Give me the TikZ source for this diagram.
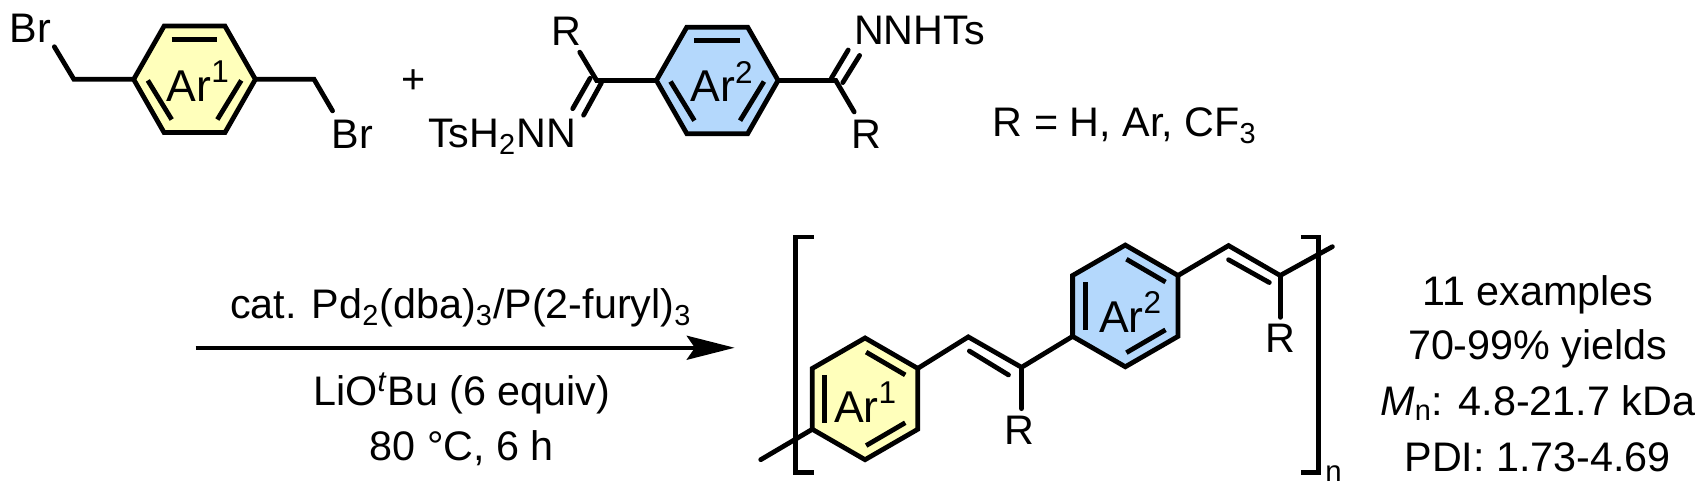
\documentclass[tikz,border=0pt]{standalone}
\usepackage{fontspec}
\setmainfont{Liberation Sans}
\usetikzlibrary{arrows.meta}
\definecolor{arOneColor}{HTML}{FFFFBB}
\definecolor{arTwoColor}{HTML}{B4D8FC}
\newcommand{\arLabel}[1]{Ar\raisebox{0.42em}{\fontsize{14.5}{15}\selectfont #1}}
\tikzset{
	bond/.style={line width=2.2pt, line cap=round, line join=miter},
	ringbond/.style={bond, line cap=butt},
	label/.style={inner sep=0pt, font=\fontsize{19}{22}\selectfont},
	ringlabel/.style={inner sep=0pt, font=\fontsize{20.5}{23}\selectfont},
}

\begin{document}
\begin{tikzpicture}[x=0.5pt, y=-0.5pt, line cap=round, line join=miter]
	\useasboundingbox (0, 0) rectangle (1568, 458.25);

	% rings, flat top: left top-left top-right right bottom-right bottom-left
	\foreach \ring/\cx/\cy in {a/179/73, b/660/74} {
		\coordinate (\ring1) at (\cx - 56, \cy);
		\coordinate (\ring2) at (\cx - 28, \cy - 49);
		\coordinate (\ring3) at (\cx + 28, \cy - 49);
		\coordinate (\ring4) at (\cx + 56, \cy);
		\coordinate (\ring5) at (\cx + 28, \cy + 49);
		\coordinate (\ring6) at (\cx - 28, \cy + 49);
	}
	% rings, pointy top
	\foreach \ring/\cx/\cy in {c/796/367, d/1035.5/281.5} {
		\coordinate (\ring1) at (\cx - 48.5, \cy - 28);
		\coordinate (\ring2) at (\cx, \cy - 56);
		\coordinate (\ring3) at (\cx + 48.5, \cy - 28);
		\coordinate (\ring4) at (\cx + 48.5, \cy + 28);
		\coordinate (\ring5) at (\cx, \cy + 56);
		\coordinate (\ring6) at (\cx - 48.5, \cy + 28);
	}
	\foreach \ring/\tint in {a/arOneColor, b/arTwoColor, c/arOneColor, d/arTwoColor} {
		\draw[ringbond, fill=\tint] (\ring1) -- (\ring2) -- (\ring3) -- (\ring4) -- (\ring5) -- (\ring6) -- cycle;
	}
	% inner lines
	\foreach \ring/\cx/\cy in {a/179/73, b/660/74} {
		\draw[ringbond] (\cx - 21, \cy - 37) -- (\cx + 21, \cy - 37);
		\draw[ringbond] (\cx - 43, \cy + 1) -- (\cx - 21, \cy + 37);
		\draw[ringbond] (\cx + 43, \cy + 1) -- (\cx + 21, \cy + 37);
	}
	\foreach \ring/\cx/\cy in {c/796/367, d/1035.5/281.5} {
		\draw[ringbond] (\cx - 37, \cy - 22) -- (\cx - 37, \cy + 22);
		\draw[ringbond] (\cx + 1, \cy - 43) -- (\cx + 37, \cy - 22);
		\draw[ringbond] (\cx + 1, \cy + 43) -- (\cx + 37, \cy + 22);
	}

	% top left monomer
	\node[label] (brA) at (28, 26) {Br};
	\node[label] (brB) at (324, 124) {Br};
	\node[label] (plus) at (381, 75) {+};
	\coordinate (brAend) at (50, 43);
	\coordinate (chA) at (68, 73);
	\coordinate (chB) at (289, 73);
	\coordinate (brBend) at (306, 102);
	\draw[bond] (brAend) -- (chA) -- (a1);
	\draw[bond] (a4) -- (chB) -- (brBend);

	% top right monomer
	\node[label] (rA) at (521, 29) {R};
	\node[label] (rB) at (797.5, 124) {R};
	\node[label] (tsA) at (462, 126) {TsH\textsubscript{2}NN};
	\node[label] (tsB) at (846, 28) {NNHTs};
	\node[label] (rList) at (1035, 116) {R = H, Ar, CF\textsubscript{3}};
	\coordinate (chC) at (549, 74);
	\coordinate (chD) at (769, 74);
	\coordinate (rAend) at (533.5, 48);
	\coordinate (rBend) at (786, 103);
	\coordinate (nAa) at (543, 72);
	\coordinate (nAb) at (527, 100);
	\coordinate (nAc) at (553.5, 76);
	\coordinate (nAd) at (537, 106);
	\coordinate (nBa) at (765, 72);
	\coordinate (nBb) at (780.5, 46);
	\coordinate (nBc) at (775.5, 76);
	\coordinate (nBd) at (791, 51);
	\draw[bond] (b1) -- (chC) -- (rAend);
	\draw[bond] (nAa) -- (nAb);
	\draw[bond] (nAc) -- (nAd);
	\draw[bond] (b4) -- (chD) -- (rBend);
	\draw[bond] (nBa) -- (nBb);
	\draw[bond] (nBc) -- (nBd);

	% ring labels
	\node[ringlabel] (arA) at (182, 75) {\arLabel{1}};
	\node[ringlabel] (arB) at (664, 75) {\arLabel{2}};
	\node[ringlabel] (arC) at (796, 370) {\arLabel{1}};
	\node[ringlabel] (arD) at (1040, 287) {\arLabel{2}};

	% reaction arrow
	\coordinate (arrowStart) at (180, 320);
	\coordinate (arrowEnd) at (676, 320);
	\draw[line width=2.05pt, line cap=butt, -{Stealth[length=22pt, width=11pt, inset=3.7pt]}] (arrowStart) -- (arrowEnd);
	\node[label] (catText) at (424, 283) {cat. Pd\textsubscript{2}(dba)\textsubscript{3}/P(2-furyl)\textsubscript{3}};
	\node[label] (baseText) at (425, 362) {LiO\textsuperscript{\textit{t}}Bu (6 equiv)};
	\node[label] (tempText) at (425, 412) {80 °C, 6 h};

	% polymer
	\coordinate (tailL) at (700, 423);
	\coordinate (vinA) at (891, 310);
	\coordinate (vinB) at (940, 338);
	\coordinate (vinAin) at (892, 323);
	\coordinate (vinBin) at (928, 345);
	\coordinate (rCend) at (940, 376);
	\coordinate (vinC) at (1130.5, 226);
	\coordinate (vinD) at (1178, 253.5);
	\coordinate (vinCin) at (1130.5, 239);
	\coordinate (vinDin) at (1168, 260);
	\coordinate (rDend) at (1178, 292);
	\coordinate (tailR) at (1226, 227);
	\node[label] (rC) at (938, 396) {R};
	\node[label] (rD) at (1178, 311) {R};
	\draw[bond] (tailL) -- (c6);
	\draw[bond] (c3) -- (vinA) -- (vinB) -- (d6);
	\draw[bond] (vinAin) -- (vinBin);
	\draw[bond] (vinB) -- (rCend);
	\draw[bond] (d3) -- (vinC) -- (vinD) -- (tailR);
	\draw[bond] (vinCin) -- (vinDin);
	\draw[bond] (vinD) -- (rDend);

	% brackets
	\coordinate (brkLa) at (749, 218);
	\coordinate (brkLb) at (732, 218);
	\coordinate (brkLc) at (732, 435);
	\coordinate (brkLd) at (749, 435);
	\coordinate (brkRa) at (1197, 218);
	\coordinate (brkRb) at (1213, 218);
	\coordinate (brkRc) at (1213, 435);
	\coordinate (brkRd) at (1197, 435);
	\draw[bond, line cap=butt] (brkLa) -- (brkLb) -- (brkLc) -- (brkLd);
	\draw[bond, line cap=butt] (brkRa) -- (brkRb) -- (brkRc) -- (brkRd);
	\node[inner sep=0pt, font=\fontsize{13.5}{15}\selectfont] (nSub) at (1227, 436) {n};

	% results
	\node[label] (resA) at (1415, 271) {11 examples};
	\node[label] (resB) at (1415, 321) {70-99\% yields};
	\node[label] (resC) at (1415, 371) {\textit{M}\textsubscript{n}: 4.8-21.7 kDa};
	\node[label] (resD) at (1415, 421) {PDI: 1.73-4.69};
\end{tikzpicture}
\end{document}
